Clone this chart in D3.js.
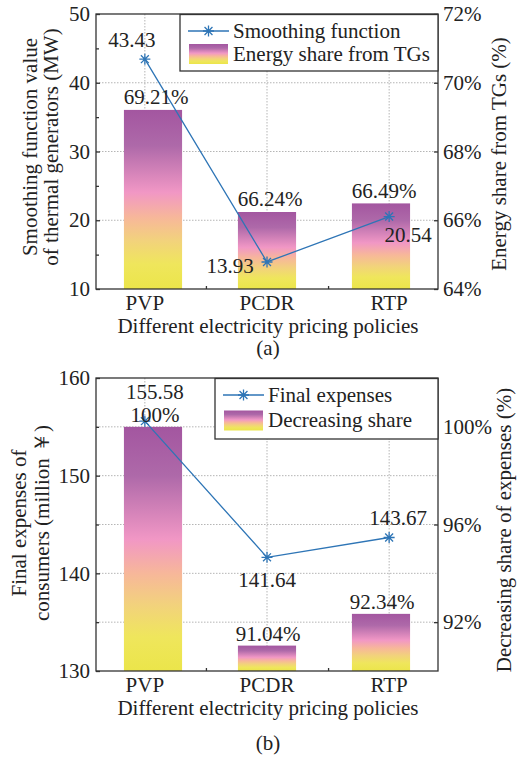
<!DOCTYPE html>
<html lang="en">
<head>
  <meta charset="UTF-8">
  <script type="text/javascript" src="https://cdn.jsdelivr.net/npm/d3@7/dist/d3.min.js"></script>
  <title>pricing policies</title>
  <style type="text/css">
    * { margin: 0; padding: 0; }
    html, body { width: 100%; height: 100%; background-color: #fff; }
    svg text { font-family: "Liberation Serif", "Times New Roman", serif; fill: #222; }
  </style>
</head>
<body>
<div id="box"></div>
</body>
<script type="text/javascript">
  // data
  var categories = ['PVP', 'PCDR', 'RTP']

  // (a)
  var smoothValues = [43.43, 13.93, 20.54]       // MW, left axis
  var energyShare = [69.21, 66.24, 66.49]        // %, right axis
  var aLeftTicks = [10, 20, 30, 40, 50]
  var aRightTicks = [64, 66, 68, 70, 72]

  // (b)
  var finalExpenses = [155.58, 141.64, 143.67]   // million yuan, left axis
  var decreasingShare = [100, 91.04, 92.34]      // %, right axis
  var bLeftTicks = [130, 140, 150, 160]
  var bRightTicks = [92, 96, 100]

  var width = 529
  var height = 759
  var fs = '21px'
  var svg = d3.select('#box')
    .append('svg')
    .attr('width', width)
    .attr('height', height)

  // gradient for bars
  var defs = svg.append('defs')
  var grad = defs.append('linearGradient')
    .attr('id', 'barGrad')
    .attr('x1', 0).attr('y1', 0).attr('x2', 0).attr('y2', 1)
  var stops = [
    [0, '#a356a0'], [0.2, '#ae69a9'], [0.46, '#f197c5'],
    [0.6, '#f7b79a'], [0.73, '#f2d27c'], [0.86, '#efe65c'], [1, '#ebe54a']
  ]
  stops.forEach(function (s) {
    grad.append('stop').attr('offset', s[0]).attr('stop-color', s[1])
  })

  var lineColor = '#2e75b6'
  var axisColor = '#333'

  function starPath(r) {
    var d = 'M0,' + (-r) + 'V' + r + 'M' + (-r) + ',0H' + r
    var k = r * 0.72
    d += 'M' + (-k) + ',' + (-k) + 'L' + k + ',' + k + 'M' + (-k) + ',' + k + 'L' + k + ',' + (-k)
    return d
  }

  function drawPanel(p) {
    var g = svg.append('g')

    var yL = d3.scaleLinear().domain(p.leftDomain).range([p.bottom, p.top])
    var yR = d3.scaleLinear().domain(p.rightDomain).range([p.bottom, p.top])
    var xLine = d3.scaleLinear().domain([-0.4, 2.4]).range([p.left, p.right])
    var xBar = d3.scaleBand().domain(categories).range([p.left, p.right])
      .paddingInner(0.49).paddingOuter(0.245)

    // grid
    g.selectAll('.hgrid').data(p.gridValues).enter().append('line')
      .attr('x1', p.left).attr('x2', p.right)
      .attr('y1', function (d) { return yL(d) })
      .attr('y2', function (d) { return yL(d) })
      .attr('stroke', '#b5b5b5').attr('stroke-width', 1)
      .attr('stroke-dasharray', '1.5,1.5')
    g.selectAll('.vgrid').data(categories).enter().append('line')
      .attr('x1', function (d, i) { return xLine(i) })
      .attr('x2', function (d, i) { return xLine(i) })
      .attr('y1', p.top).attr('y2', p.bottom)
      .attr('stroke', '#b5b5b5').attr('stroke-width', 1)
      .attr('stroke-dasharray', '1.5,1.5')

    // bars
    g.selectAll('.bar').data(p.barValues).enter().append('rect')
      .attr('x', function (d, i) { return xBar(categories[i]) })
      .attr('y', function (d) { return yR(d) })
      .attr('width', xBar.bandwidth())
      .attr('height', function (d) { return p.bottom - yR(d) })
      .attr('fill', 'url(#barGrad)')

    // line
    var line = d3.line()
      .x(function (d, i) { return xLine(i) })
      .y(function (d) { return yL(d) })
    g.append('path').datum(p.lineValues)
      .attr('d', line)
      .attr('fill', 'none')
      .attr('stroke', lineColor)
      .attr('stroke-width', 1.3)
    g.selectAll('.star').data(p.lineValues).enter().append('path')
      .attr('d', starPath(5.5))
      .attr('transform', function (d, i) { return 'translate(' + xLine(i) + ',' + yL(d) + ')' })
      .attr('stroke', lineColor).attr('stroke-width', 1.3).attr('fill', 'none')

    // frame
    g.append('rect')
      .attr('x', p.left).attr('y', p.top)
      .attr('width', p.right - p.left).attr('height', p.bottom - p.top)
      .attr('fill', 'none').attr('stroke', axisColor).attr('stroke-width', 1.3)

    // axes (ticks inward)
    var leftAxis = d3.axisLeft(yL).tickValues(p.leftTicks).tickSize(-4).tickPadding(6)
    var rightAxis = d3.axisRight(yR).tickValues(p.rightTicks).tickSize(-4).tickPadding(5)
      .tickFormat(function (d) { return d + '%' })
    var bottomAxis = d3.axisBottom(xLine).tickValues([0.5, 1.5]).tickSize(-3).tickFormat('')

    var la = g.append('g').attr('transform', 'translate(' + p.left + ',0)').call(leftAxis)
    var ra = g.append('g').attr('transform', 'translate(' + p.right + ',0)').call(rightAxis)
    var ba = g.append('g').attr('transform', 'translate(0,' + p.bottom + ')').call(bottomAxis)
    g.append('g').attr('transform', 'translate(' + p.left + ',0)')
      .call(d3.axisLeft(yL).tickValues(p.leftMinor).tickSize(-3).tickFormat(''))
      .call(function (s) { s.select('.domain').remove() })
    ;[la, ra, ba].forEach(function (a) {
      a.select('.domain').remove()
      a.selectAll('.tick text').style('font-size', fs).attr('fill', '#222')
    })
    g.selectAll('.tick line').attr('stroke', axisColor).attr('stroke-width', 1.3)

    // category labels
    g.selectAll('.cat').data(categories).enter().append('text')
      .attr('x', function (d, i) { return xLine(i) })
      .attr('y', p.bottom + 21)
      .attr('text-anchor', 'middle')
      .style('font-size', fs)
      .text(function (d) { return d })

    g.append('text')
      .attr('x', 268).attr('y', p.bottom + 44)
      .attr('text-anchor', 'middle').style('font-size', fs)
      .text('Different electricity pricing policies')
    g.append('text')
      .attr('x', 268).attr('y', p.bottom + p.subDy)
      .attr('text-anchor', 'middle').style('font-size', fs)
      .text(p.sub)

    // axis titles
    p.leftTitle.forEach(function (t, k) {
      g.append('text')
        .attr('transform', 'translate(' + p.leftTitleX[k] + ',' + p.leftTitleY + ') rotate(-90)')
        .attr('text-anchor', 'middle').style('font-size', fs)
        .text(t)
    })
    g.append('text')
      .attr('transform', 'translate(' + p.rightTitleX + ',' + p.rightTitleY + ') rotate(-90)')
      .attr('text-anchor', 'middle').style('font-size', fs)
      .text(p.rightTitle)

    // data labels
    g.selectAll('.lineLab').data(p.lineValues).enter().append('text')
      .attr('x', function (d, i) { return xLine(i) + p.lineLabOff[i][0] })
      .attr('y', function (d, i) { return yL(d) + p.lineLabOff[i][1] })
      .attr('text-anchor', 'middle').style('font-size', fs)
      .text(function (d) { return d.toFixed(2) })
    g.selectAll('.barLab').data(p.barValues).enter().append('text')
      .attr('x', function (d, i) { return xBar(categories[i]) + xBar.bandwidth() / 2 + p.barLabOff[i][0] })
      .attr('y', function (d, i) { return yR(d) + p.barLabOff[i][1] })
      .attr('text-anchor', 'middle').style('font-size', fs)
      .text(function (d) { return (d === 100 ? '100' : d.toFixed(2)) + '%' })

    // legend
    var L = p.legend
    var lg = g.append('g')
    lg.append('rect')
      .attr('x', L.x).attr('y', L.y).attr('width', p.right - L.x).attr('height', L.h)
      .attr('fill', '#fff').attr('stroke', axisColor).attr('stroke-width', 1.3)
    lg.append('line')
      .attr('x1', L.x + 8).attr('x2', L.x + 49)
      .attr('y1', L.y + L.row1).attr('y2', L.y + L.row1)
      .attr('stroke', lineColor).attr('stroke-width', 1.3)
    lg.append('path')
      .attr('d', starPath(5.5))
      .attr('transform', 'translate(' + (L.x + 28.5) + ',' + (L.y + L.row1) + ')')
      .attr('stroke', lineColor).attr('stroke-width', 1.3).attr('fill', 'none')
    lg.append('text')
      .attr('x', L.x + 53).attr('y', L.y + L.row1 + 6.5)
      .style('font-size', fs).text(L.names[0])
    lg.append('rect')
      .attr('x', L.x + 9).attr('y', L.y + L.row2 - 10)
      .attr('width', 39).attr('height', 20)
      .attr('fill', 'url(#barGrad)')
    lg.append('text')
      .attr('x', L.x + 53).attr('y', L.y + L.row2 + 6.5)
      .style('font-size', fs).text(L.names[1])
  }

  drawPanel({
    left: 96, right: 438, top: 14, bottom: 289,
    leftDomain: [10, 50], rightDomain: [64, 72],
    leftTicks: aLeftTicks, leftMinor: [15, 25, 35, 45], rightTicks: aRightTicks,
    gridValues: [20, 30, 40],
    lineValues: smoothValues, barValues: energyShare,
    lineLabOff: [[-13, -12], [-37, 11], [19, 25.5]],
    barLabOff: [[3, -6], [3, -6], [3, -5]],
    sub: '(a)', subDy: 66,
    leftTitle: ['Smoothing function value', 'of thermal generators (MW)'],
    leftTitleX: [37, 58], leftTitleY: 147,
    rightTitle: 'Energy share from TGs (%)', rightTitleX: 506, rightTitleY: 154,
    legend: { x: 180, y: 14.5, h: 56.5, row1: 16.5, row2: 39.5,
      names: ['Smoothing function', 'Energy share from TGs'] }
  })

  drawPanel({
    left: 96, right: 438, top: 378, bottom: 671,
    leftDomain: [130, 160], rightDomain: [90, 102],
    leftTicks: bLeftTicks, leftMinor: [135, 145, 155], rightTicks: bRightTicks,
    gridValues: [135, 140, 145, 150, 155],
    lineValues: finalExpenses, barValues: decreasingShare,
    lineLabOff: [[10, -22], [0, 30], [9, -12]],
    barLabOff: [[2, -5], [1, -5], [1, -5]],
    sub: '(b)', subDy: 79,
    leftTitle: ['Final expenses of', 'consumers (million \uffe5)'],
    leftTitleX: [26, 49], leftTitleY: 523,
    rightTitle: 'Decreasing share of expenses (%)', rightTitleX: 511, rightTitleY: 530,
    legend: { x: 215, y: 378.5, h: 60.5, row1: 16.5, row2: 42,
      names: ['Final expenses', 'Decreasing share'] }
  })
</script>
</html>
